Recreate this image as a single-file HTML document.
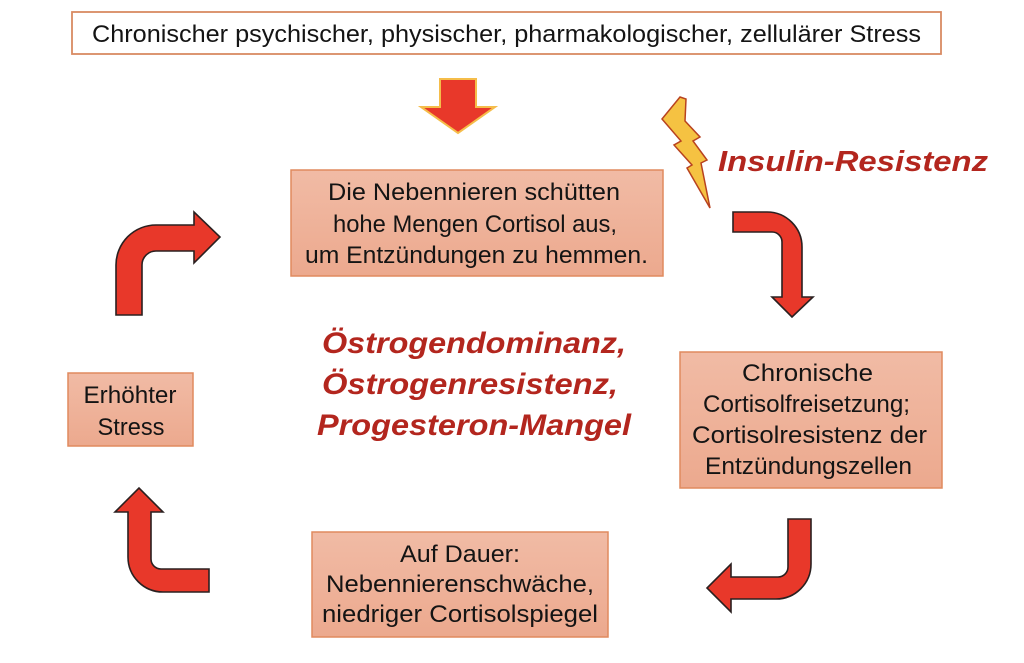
<!DOCTYPE html>
<html>
<head>
<meta charset="utf-8">
<style>
  html,body{margin:0;padding:0;background:#fff;}
  svg{display:block;}
  .t{font-family:"Liberation Sans",sans-serif;fill:#141414;}
  .r{font-family:"Liberation Sans",sans-serif;font-weight:bold;font-style:italic;fill:#b3261e;}
</style>
</head>
<body>
<svg width="1024" height="663" viewBox="0 0 1024 663" xmlns="http://www.w3.org/2000/svg">
  <defs>
    <linearGradient id="bx" x1="0" y1="0" x2="0" y2="1">
      <stop offset="0" stop-color="#f1bba5"/>
      <stop offset="1" stop-color="#eca98e"/>
    </linearGradient>
  </defs>

  <!-- top box -->
  <rect x="72" y="12" width="869" height="42" fill="#fff" stroke="#d98a62" stroke-width="1.8"/>
  <text class="t" x="92" y="42" font-size="24" textLength="829" lengthAdjust="spacingAndGlyphs">Chronischer psychischer, physischer, pharmakologischer, zellulärer Stress</text>

  <!-- down arrow -->
  <path d="M440,79 L476,79 L476,107 L495,107 L458,133 L421,107 L440,107 Z" fill="#e8382a" stroke="#f5bd4a" stroke-width="2" stroke-linejoin="miter"/>

  <!-- lightning bolt -->
  <polygon points="680,97 686,99 685,121 700,137 693,141 707,160 701,163 710,208 687,168 692,165 674,145 681,141 662,119" fill="#f5c242" stroke="#b8421f" stroke-width="1.5" stroke-linejoin="miter"/>

  <!-- Insulin-Resistenz -->
  <text class="r" x="718" y="171" font-size="29" textLength="270" lengthAdjust="spacingAndGlyphs">Insulin-Resistenz</text>

  <!-- main box -->
  <rect x="291" y="170" width="372" height="106" fill="url(#bx)" stroke="#e08a5e" stroke-width="1.5"/>
  <text class="t" x="328" y="200" font-size="24" textLength="292" lengthAdjust="spacingAndGlyphs">Die Nebennieren schütten</text>
  <text class="t" x="333" y="232" font-size="24" textLength="284" lengthAdjust="spacingAndGlyphs">hohe Mengen Cortisol aus,</text>
  <text class="t" x="305" y="263" font-size="24" textLength="343" lengthAdjust="spacingAndGlyphs">um Entzündungen zu hemmen.</text>

  <!-- right box -->
  <rect x="680" y="352" width="262" height="136" fill="url(#bx)" stroke="#e08a5e" stroke-width="1.5"/>
  <text class="t" x="742" y="381" font-size="24" textLength="131" lengthAdjust="spacingAndGlyphs">Chronische</text>
  <text class="t" x="703" y="412" font-size="24" textLength="207" lengthAdjust="spacingAndGlyphs">Cortisolfreisetzung;</text>
  <text class="t" x="692" y="443" font-size="24" textLength="235" lengthAdjust="spacingAndGlyphs">Cortisolresistenz der</text>
  <text class="t" x="705" y="474" font-size="24" textLength="207" lengthAdjust="spacingAndGlyphs">Entzündungszellen</text>

  <!-- bottom box -->
  <rect x="312" y="532" width="296" height="105" fill="url(#bx)" stroke="#e08a5e" stroke-width="1.5"/>
  <text class="t" x="460" y="562" font-size="24" text-anchor="middle" textLength="120" lengthAdjust="spacingAndGlyphs">Auf Dauer:</text>
  <text class="t" x="460" y="592" font-size="24" text-anchor="middle" textLength="268" lengthAdjust="spacingAndGlyphs">Nebennierenschwäche,</text>
  <text class="t" x="460" y="622" font-size="24" text-anchor="middle" textLength="276" lengthAdjust="spacingAndGlyphs">niedriger Cortisolspiegel</text>

  <!-- left box -->
  <rect x="68" y="373" width="125" height="73" fill="url(#bx)" stroke="#e08a5e" stroke-width="1.5"/>
  <text class="t" x="130" y="403" font-size="24" text-anchor="middle" textLength="93" lengthAdjust="spacingAndGlyphs">Erhöhter</text>
  <text class="t" x="131" y="435" font-size="24" text-anchor="middle" textLength="67" lengthAdjust="spacingAndGlyphs">Stress</text>

  <!-- center red text -->
  <text class="r" x="474" y="353" font-size="30" text-anchor="middle" textLength="304" lengthAdjust="spacingAndGlyphs">Östrogendominanz,</text>
  <text class="r" x="470" y="394" font-size="30" text-anchor="middle" textLength="296" lengthAdjust="spacingAndGlyphs">Östrogenresistenz,</text>
  <text class="r" x="474" y="435" font-size="30" text-anchor="middle" textLength="314" lengthAdjust="spacingAndGlyphs">Progesteron-Mangel</text>

  <!-- curved arrows -->
  <g fill="#e8382a" stroke="#2a2020" stroke-width="1.6" stroke-linejoin="miter">
    <path d="M116,315 L116,265 A40,40 0 0 1 156,225 L194,225 L194,212 L220,237 L194,263 L194,251 L156,251 A14,14 0 0 0 142,265 L142,315 Z"/>
    <path d="M733,212 L767,212 A35,35 0 0 1 802,247 L802,297 L813,297 L792,317 L772,297 L782,297 L782,242 A10,10 0 0 0 772,232 L733,232 Z"/>
    <path d="M788,519 L811,519 L811,564 A35,35 0 0 1 776,599 L731,599 L731,612 L707,588 L731,564 L731,577 L778,577 A10,10 0 0 0 788,567 Z"/>
    <path d="M209,569 L161,569 A10,10 0 0 1 151,559 L151,512 L163,512 L139,488 L115,512 L128,512 L128,557 A35,35 0 0 0 163,592 L209,592 Z"/>
  </g>
</svg>
</body>
</html>
